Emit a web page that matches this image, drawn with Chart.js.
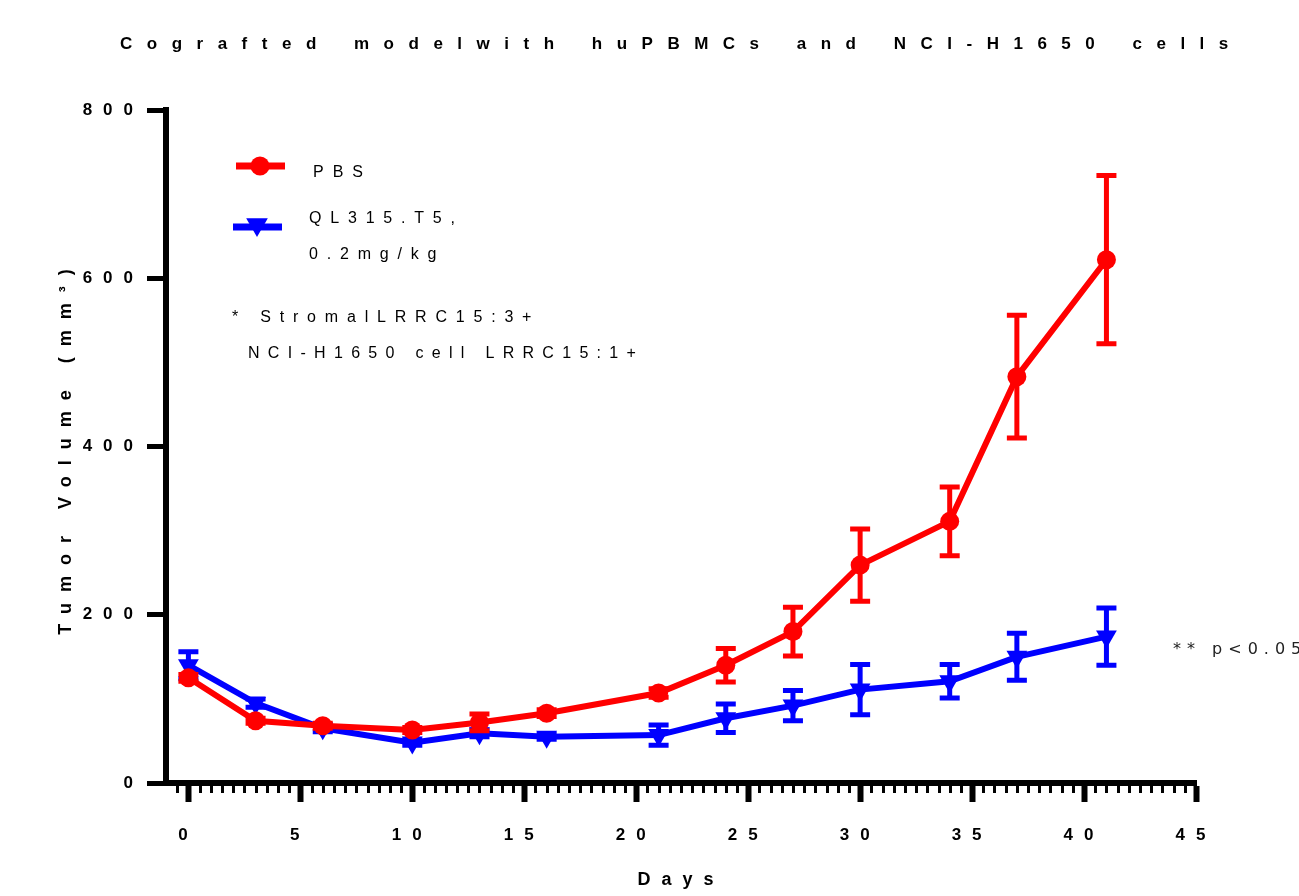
<!DOCTYPE html>
<html>
<head>
<meta charset="utf-8">
<title>Cografted model with huPBMCs and NCI-H1650 cells</title>
<script src="https://cdn.jsdelivr.net/npm/chart.js@4.4.1/dist/chart.umd.min.js"></script>
<style>
  html, body { margin: 0; padding: 0; background: #fff; }
  canvas { display: block; }
</style>
</head>
<body>
<canvas id="tumorChart" width="1299" height="896"></canvas>
<script>
// Study days and group mean / SEM tumor volume (mm3)
const days = [0, 3, 6, 10, 13, 16, 21, 24, 27, 30, 34, 37, 41];
const pbsMean = [125, 74, 68, 63, 72, 83, 107, 140, 180, 259, 311, 483, 622];
const pbsSem = [4, 3, 3, 3, 10, 4, 5, 20, 29, 43, 41, 73, 100];
const qlMean = [140, 95, 65, 48, 59, 55, 57, 77, 92, 111, 121, 150, 174];
const qlSem = [16, 5, 4, 3, 4, 3, 12, 17, 18, 30, 20, 28, 34];

const xTickValues = [0, 5, 10, 15, 20, 25, 30, 35, 40, 45];
const yTickValues = [0, 200, 400, 600, 800];
const minorStep = 0.5;

const chartTitle = 'Cografted modelwith huPBMCs and NCI-H1650 cells';
const seriesLabels = ['PBS', 'QL315.T5, 0.2mg/kg'];
const legendLines = [['PBS'], ['QL315.T5,', '0.2mg/kg']];
const noteLines = ['* StromalLRRC15:3+', 'NCI-H1650 cell LRRC15:1+'];
const sigNote = '** p<0.05';

const FONT = "'Liberation Sans', Arial, Helvetica, sans-serif";
const RED = '#ff0000';
const BLUE = '#0000ff';

// Prism style wide letter spacing for everything chart.js draws itself
const spacingPlugin = {
  id: 'spacing',
  beforeUpdate(chart) { chart.ctx.letterSpacing = '11px'; },
  beforeDraw(chart) { chart.ctx.letterSpacing = '11px'; },
};

// mean +/- SEM whiskers, drawn right after each dataset so stacking matches
const errorBarPlugin = {
  id: 'errorBars',
  afterDatasetDraw(chart, args) {
    const ds = chart.data.datasets[args.index];
    if (!ds.errors) return;
    const { ctx, scales: { x, y } } = chart;
    ctx.save();
    ctx.strokeStyle = ds.borderColor;
    ctx.lineWidth = 5;
    ds.data.forEach((pt, i) => {
      const px = x.getPixelForValue(pt.x);
      const top = y.getPixelForValue(pt.y + ds.errors[i]);
      const bot = y.getPixelForValue(pt.y - ds.errors[i]);
      ctx.beginPath();
      ctx.moveTo(px, top);
      ctx.lineTo(px, bot);
      ctx.moveTo(px - 10, top);
      ctx.lineTo(px + 10, top);
      ctx.moveTo(px - 10, bot);
      ctx.lineTo(px + 10, bot);
      ctx.stroke();
    });
    ctx.restore();
  },
};

// short minor ticks every half day under the x axis
const minorTickPlugin = {
  id: 'minorTicks',
  beforeDatasetsDraw(chart) {
    const { ctx, chartArea, scales: { x } } = chart;
    ctx.save();
    ctx.strokeStyle = '#000';
    ctx.lineWidth = 3;
    ctx.beginPath();
    for (let v = x.min + minorStep; v < x.max; v += minorStep) {
      if (v % 5 === 0) continue;
      const px = Math.round(x.getPixelForValue(v)) + 0.5;
      ctx.moveTo(px, chartArea.bottom);
      ctx.lineTo(px, chartArea.bottom + 10);
    }
    ctx.stroke();
    ctx.restore();
  },
};

function spacedText(ctx, text, x, y, font, spacing, color) {
  ctx.save();
  ctx.font = font;
  ctx.letterSpacing = spacing + 'px';
  ctx.fillStyle = color || '#000';
  ctx.textAlign = 'left';
  ctx.textBaseline = 'alphabetic';
  ctx.fillText(text, x, y);
  ctx.restore();
}

// title, legend box and notes placed like the original figure
const annotationPlugin = {
  id: 'annotations',
  afterDraw(chart) {
    const { ctx } = chart;
    const ds = chart.data.datasets;

    ctx.save();
    ctx.wordSpacing = '4px';
    spacedText(ctx, chartTitle, 120, 49, 'bold 17px ' + FONT, 14.5);
    ctx.restore();

    // PBS legend entry
    ctx.save();
    ctx.lineWidth = 7;
    ctx.strokeStyle = ds[0].borderColor;
    ctx.beginPath();
    ctx.moveTo(236, 166);
    ctx.lineTo(285, 166);
    ctx.stroke();
    ctx.fillStyle = ds[0].borderColor;
    ctx.beginPath();
    ctx.arc(260, 166, 9.5, 0, Math.PI * 2);
    ctx.fill();

    // QL315.T5 legend entry
    ctx.strokeStyle = ds[1].borderColor;
    ctx.beginPath();
    ctx.moveTo(233, 227);
    ctx.lineTo(282, 227);
    ctx.stroke();
    ctx.fillStyle = ds[1].borderColor;
    const r = 12.5, cx = 257, cy = 224.5;
    ctx.beginPath();
    ctx.moveTo(cx, cy + r);
    ctx.lineTo(cx - r * Math.cos(Math.PI / 6), cy - r / 2);
    ctx.lineTo(cx + r * Math.cos(Math.PI / 6), cy - r / 2);
    ctx.closePath();
    ctx.fill();
    ctx.restore();

    const legendFont = '16px ' + FONT;
    spacedText(ctx, legendLines[0][0], 313, 177, legendFont, 9);
    spacedText(ctx, legendLines[1][0], 309, 223, legendFont, 8.8);
    spacedText(ctx, legendLines[1][1], 309, 259, legendFont, 8.8);
    spacedText(ctx, noteLines[0], 232, 322, legendFont, 8.8);
    spacedText(ctx, noteLines[1], 248, 358, legendFont, 8.3);

    spacedText(ctx, sigNote, 1173, 654, "16px 'DejaVu Sans', sans-serif", 6, '#222');
  },
};

const toPoints = (means) => days.map((d, i) => ({ x: d, y: means[i] }));

const ctx = document.getElementById('tumorChart').getContext('2d');
new Chart(ctx, {
  type: 'line',
  data: {
    datasets: [
      {
        label: seriesLabels[0],
        data: toPoints(pbsMean),
        errors: pbsSem,
        borderColor: RED,
        backgroundColor: RED,
        borderWidth: 6,
        pointStyle: 'circle',
        pointRadius: 9.5,
        pointBorderWidth: 0,
        tension: 0,
      },
      {
        label: seriesLabels[1],
        data: toPoints(qlMean),
        errors: qlSem,
        borderColor: BLUE,
        backgroundColor: BLUE,
        borderWidth: 6,
        pointStyle: 'triangle',
        pointRotation: 180,
        pointRadius: 12,
        pointBorderWidth: 0,
        tension: 0,
      },
    ],
  },
  options: {
    responsive: false,
    animation: false,
    devicePixelRatio: 1,
    layout: { padding: { top: 110, right: 103, bottom: 0, left: 0 } },
    font: { family: FONT },
    plugins: {
      legend: { display: false },
      title: { display: false },
      tooltip: { enabled: false },
    },
    scales: {
      x: {
        type: 'linear',
        min: -1,
        max: 45,
        afterBuildTicks: (scale) => {
          scale.ticks = xTickValues.map((v) => ({ value: v }));
        },
        afterFit: (scale) => { scale.height = 113; },
        border: { display: true, color: '#000', width: 6 },
        grid: {
          drawOnChartArea: false,
          drawTicks: true,
          tickLength: 19,
          tickWidth: 6,
          tickColor: '#000',
        },
        ticks: {
          padding: 23,
          color: '#000',
          maxRotation: 0,
          autoSkip: false,
          font: { family: FONT, size: 17, weight: 'bold' },
        },
        title: {
          display: true,
          text: 'Days',
          color: '#000',
          padding: { top: 0, bottom: 5 },
          font: { family: FONT, size: 18, weight: 'bold' },
        },
      },
      y: {
        min: 0,
        max: 800,
        afterBuildTicks: (scale) => {
          scale.ticks = yTickValues.map((v) => ({ value: v }));
        },
        afterFit: (scale) => { scale.width = 166; },
        border: { display: true, color: '#000', width: 6 },
        grid: {
          drawOnChartArea: false,
          drawTicks: true,
          tickLength: 19,
          tickWidth: 5,
          tickColor: '#000',
        },
        ticks: {
          padding: 3,
          color: '#000',
          autoSkip: false,
          font: { family: FONT, size: 17, weight: 'bold' },
        },
        title: {
          display: true,
          text: 'Tumor Volume (mm³)',
          color: '#000',
          padding: { top: 55, bottom: 0 },
          font: { family: FONT, size: 18, weight: 'bold' },
        },
      },
    },
  },
  plugins: [spacingPlugin, minorTickPlugin, errorBarPlugin, annotationPlugin],
});
</script>
</body>
</html>
